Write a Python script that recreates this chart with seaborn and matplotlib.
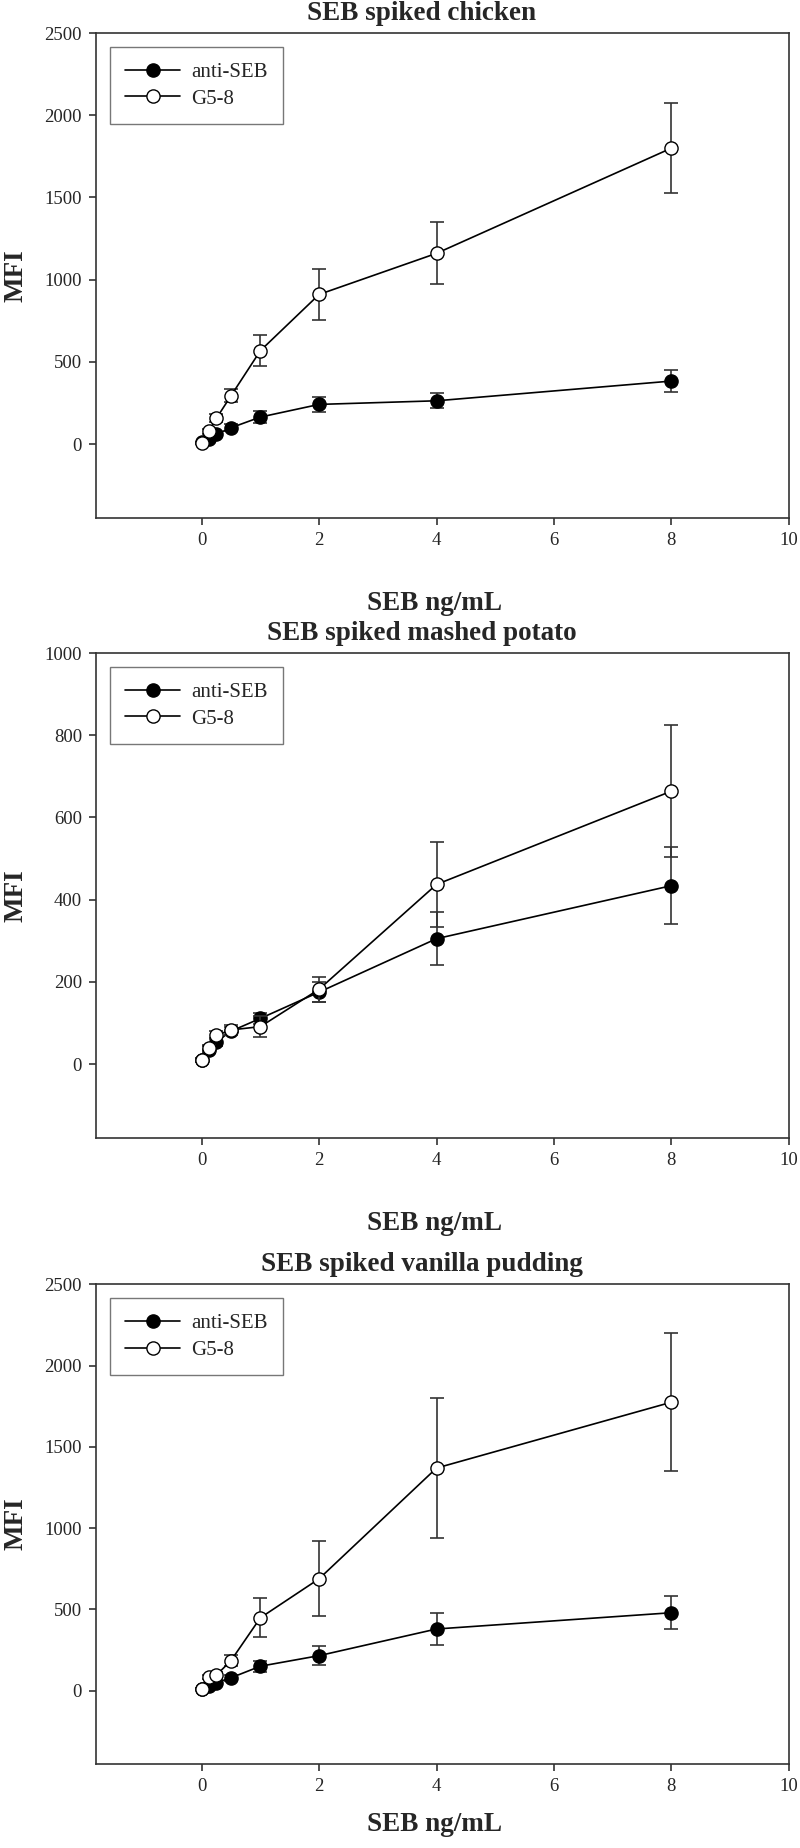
import numpy as np
import pandas as pd
import matplotlib
matplotlib.use('Agg')
import matplotlib.pyplot as plt
import seaborn as sns

sns.set_style('ticks')
plt.rcParams['font.family'] = ['Liberation Serif', 'DejaVu Serif']

## SEB concentration (ng/mL)
conc = [0, 0.125, 0.25, 0.5, 1, 2, 4, 8]

titles = ['SEB spiked chicken', 'SEB spiked mashed potato', 'SEB spiked vanilla pudding']
ymax = [2500, 1000, 2500]
ystep = [500, 200, 500]

## MFI values (mean, error)
chicken_anti = [10, 29, 59, 99, 164, 241, 263, 383]
chicken_anti_err = [5, 10, 15, 20, 37, 47, 45, 65]
chicken_g58 = [8, 79, 156, 294, 568, 910, 1160, 1800]
chicken_g58_err = [5, 15, 25, 40, 95, 155, 188, 275]

potato_anti = [10, 35, 54, 80, 111, 175, 305, 434]
potato_anti_err = [4, 8, 10, 10, 14, 25, 65, 93]
potato_g58 = [11, 38, 70, 83, 91, 182, 437, 664]
potato_g58_err = [4, 8, 10, 12, 26, 30, 103, 160]

pudding_anti = [10, 30, 50, 80, 151, 216, 380, 480]
pudding_anti_err = [5, 8, 12, 20, 35, 60, 100, 100]
pudding_g58 = [10, 84, 96, 186, 449, 689, 1370, 1775]
pudding_g58_err = [5, 12, 18, 36, 120, 232, 430, 425]

anti = [chicken_anti, potato_anti, pudding_anti]
anti_err = [chicken_anti_err, potato_anti_err, pudding_anti_err]
g58 = [chicken_g58, potato_g58, pudding_g58]
g58_err = [chicken_g58_err, potato_g58_err, pudding_g58_err]

fig = plt.figure(figsize=(8, 18.48), dpi=100)
bottoms = [0.7197, 0.3842, 0.0455]
heights = [0.2624, 0.2624, 0.2595]
xlab_y = [-0.150, -0.150, -0.100]
edge = '#333333'

for i in range(3):
    ax = fig.add_axes([0.12, bottoms[i], 0.866, heights[i]])

    # anti-SEB (filled)
    ax.errorbar(conc, anti[i], yerr=anti_err[i], fmt='none', ecolor=edge,
                elinewidth=1.2, capsize=5, capthick=1.2, zorder=2)
    sns.lineplot(x=conc, y=anti[i], ax=ax, color='black', lw=1.2, marker='o',
                 markersize=9.5, markerfacecolor='black', markeredgecolor='black',
                 markeredgewidth=1, label='anti-SEB', zorder=3)

    # G5-8 (open)
    ax.errorbar(conc, g58[i], yerr=g58_err[i], fmt='none', ecolor=edge,
                elinewidth=1.2, capsize=5, capthick=1.2, zorder=4)
    sns.lineplot(x=conc, y=g58[i], ax=ax, color='black', lw=1.2, marker='o',
                 markersize=9.5, markerfacecolor='white', markeredgecolor='black',
                 markeredgewidth=1, label='G5-8', zorder=5)

    ax.set_xlim(-1.8, 10)
    ax.set_ylim(-0.18 * ymax[i], ymax[i])
    ax.set_xticks([0, 2, 4, 6, 8, 10])
    ax.set_yticks(np.arange(0, ymax[i] + 1, ystep[i]))

    for s in ax.spines.values():
        s.set_color(edge)
        s.set_linewidth(1.2)
    ax.tick_params(direction='out', length=5, width=1.2, color=edge,
                   labelsize=13.5, pad=5)

    ax.set_title(titles[i], fontsize=19.5, fontweight='bold', pad=9.5, x=0.47)
    ax.set_xlabel('SEB ng/mL', fontsize=19.5, fontweight='bold')
    ax.xaxis.set_label_coords(0.488, xlab_y[i])
    ax.set_ylabel('MFI', fontsize=19.5, fontweight='bold')
    ax.yaxis.set_label_coords(-0.098, 0.5)

    leg = ax.legend(loc='upper left', bbox_to_anchor=(0.02, 0.972), borderaxespad=0,
                    frameon=True, fancybox=False, edgecolor='#555555', fontsize=15,
                    handlelength=2.6, handletextpad=0.55, borderpad=0.75, labelspacing=0.35)
    leg.get_frame().set_linewidth(1.0)

fig.savefig('out.png', dpi=100)
